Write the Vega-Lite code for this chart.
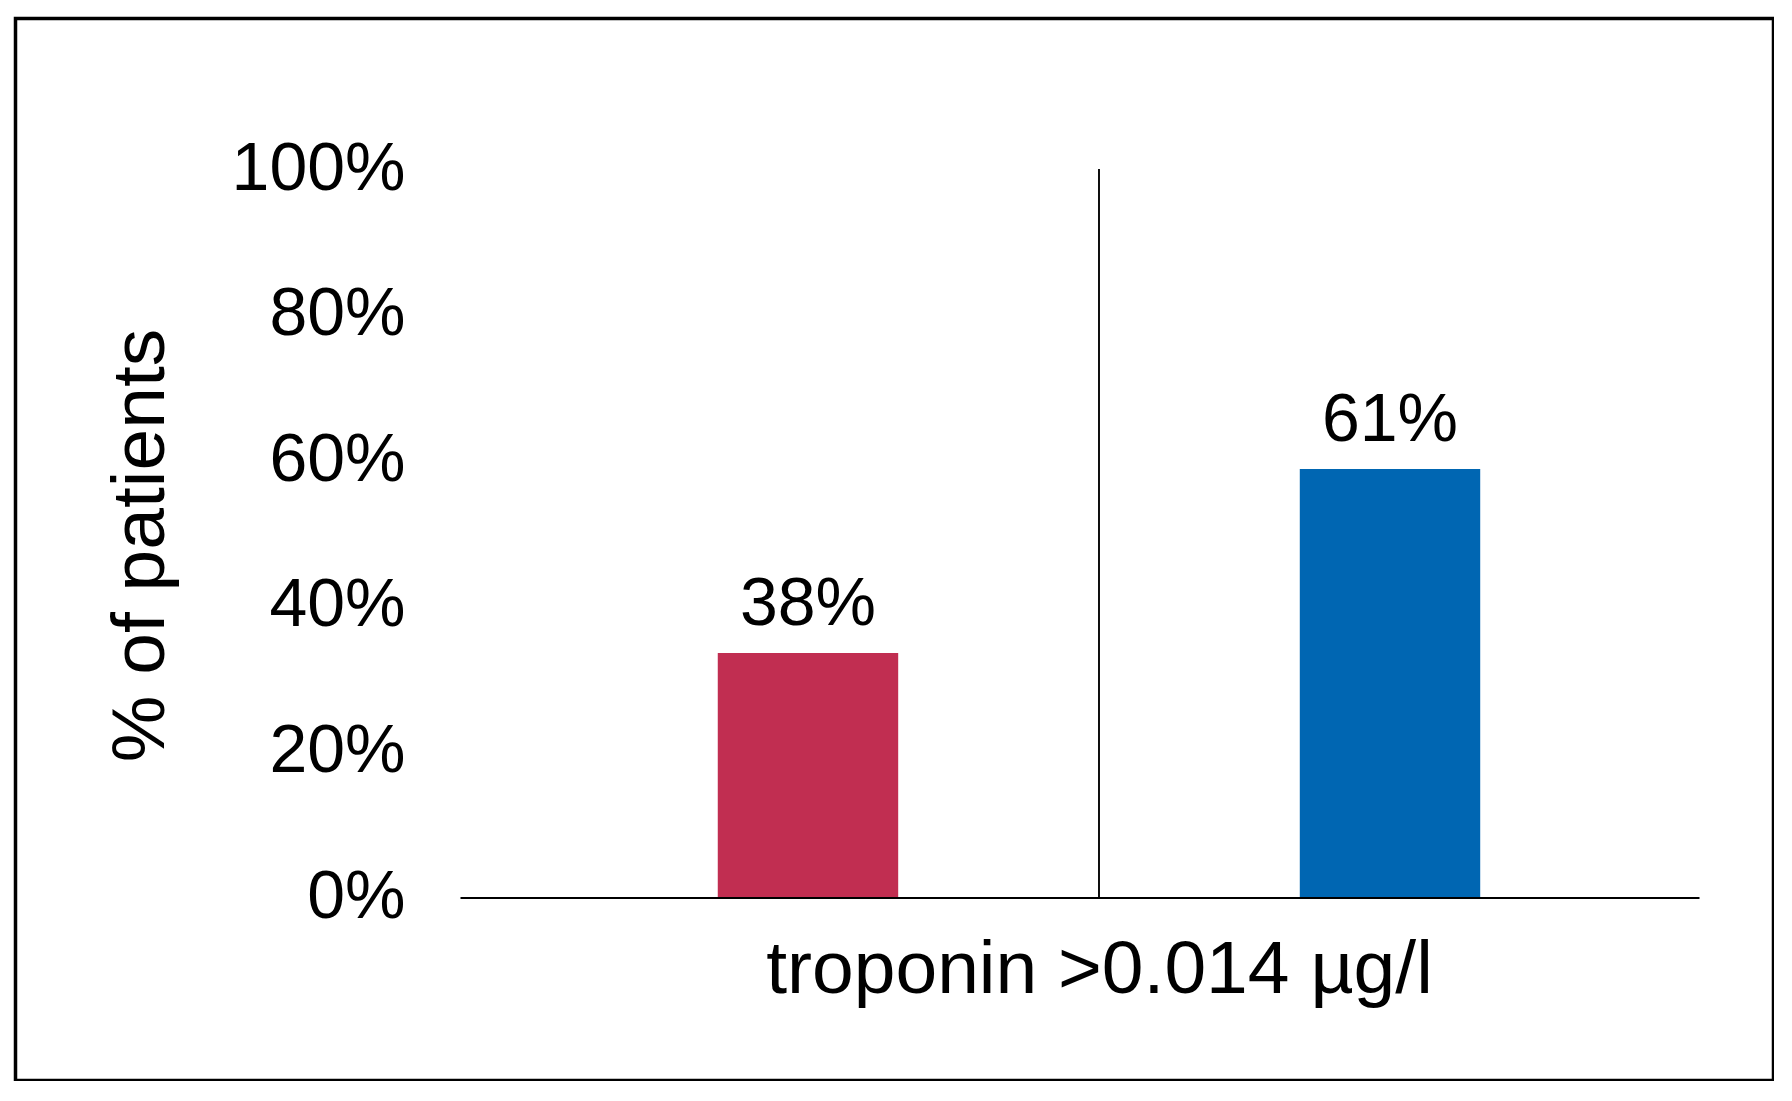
{
  "$schema": "https://vega.github.io/schema/vega-lite/v6.json",
  "width": 1758,
  "height": 1062,
  "autosize": {"type": "none"},
  "padding": {"left": 15.5, "top": 18.5, "right": 0, "bottom": 0},
  "background": "white",
  "config": {
    "view": {"stroke": "black", "strokeWidth": 3.5},
    "font": "Liberation Sans"
  },
  "data": {
    "values": [
      {"group": "A", "value": 0.335, "label": "38%"},
      {"group": "B", "value": 0.588, "label": "61%"}
    ]
  },
  "encoding": {
    "x": {
      "field": "group",
      "type": "nominal",
      "scale": {"type": "band", "range": [444.5, 1683.5], "paddingInner": 0, "paddingOuter": 0.0644, "align": 0.76},
      "axis": {
        "orient": "bottom",
        "offset": -183,
        "domain": true,
        "domainColor": "black",
        "domainWidth": 2,
        "ticks": false,
        "labels": false,
        "grid": false,
        "title": "troponin >0.014 µg/l",
        "titleFontSize": 75,
        "titleFontWeight": "normal",
        "titleColor": "black",
        "titlePadding": 36,
        "titleX": 1083.5
      }
    },
    "y": {
      "field": "value",
      "type": "quantitative",
      "scale": {"domain": [0, 1], "range": [878.5, 150.5], "nice": false},
      "axis": {
        "orient": "left",
        "offset": -389.5,
        "domain": false,
        "ticks": false,
        "tickSize": 0,
        "labelPadding": 0,
        "grid": false,
        "values": [0, 0.2, 0.4, 0.6, 0.8, 1],
        "format": ".0%",
        "labelFontSize": 68,
        "labelColor": "black",
        "title": "% of patients",
        "titleFontSize": 75,
        "titleFontWeight": "normal",
        "titleColor": "black",
        "titleBaseline": "alphabetic",
        "titlePadding": 68,
        "titleY": 526.5
      }
    }
  },
  "layer": [
    {
      "mark": {"type": "rule", "color": "black", "strokeWidth": 1.5},
      "encoding": {
        "x": {"datum": "B", "bandPosition": 0},
        "y": {"datum": 0},
        "y2": {"datum": 1},
        "color": null
      }
    },
    {
      "mark": {"type": "bar", "width": {"band": 0.31}},
      "encoding": {
        "color": {
          "field": "group",
          "type": "nominal",
          "scale": {"domain": ["A", "B"], "range": ["#C12E51", "#0066B2"]},
          "legend": null
        }
      }
    },
    {
      "mark": {"type": "text", "dy": -28, "baseline": "alphabetic", "align": "center", "fontSize": 68, "color": "black"},
      "encoding": {
        "text": {"field": "label", "type": "nominal"}
      }
    }
  ]
}
